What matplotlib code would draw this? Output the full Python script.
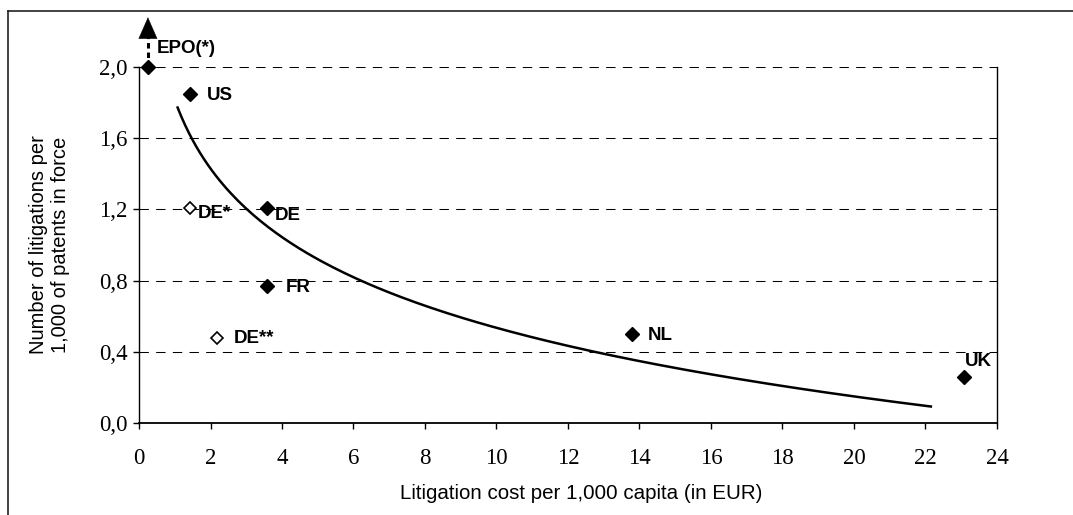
import matplotlib.pyplot as plt
import numpy as np
from matplotlib.lines import Line2D

# Data
countries = ["EPO(*)", "US", "DE", "FR", "NL", "UK"]
cost = [0.25, 1.43, 3.58, 3.58, 13.79, 23.08]
litigations = [2.0, 1.85, 1.21, 0.77, 0.50, 0.26]

alt_labels = ["DE*", "DE**"]
alt_cost = [1.43, 2.18]
alt_litigations = [1.21, 0.48]

# logarithmic trend line (y = a + b ln x) as drawn in the reference
trend_a = 1.815
trend_b = -0.556
trend_range = [1.08, 22.15]

x_ticks = [0, 2, 4, 6, 8, 10, 12, 14, 16, 18, 20, 22, 24]
y_ticks = [0.0, 0.4, 0.8, 1.2, 1.6, 2.0]

# label offsets in pixels (dx right, dy up) from each marker to text baseline-left
label_offsets = {
    "EPO(*)": (9, 14), "US": (17, -6.5), "DE": (8, -12.5), "FR": (19, -6.5),
    "NL": (16, -5.5), "UK": (1, 10.5), "DE*": (8, -10.5), "DE**": (17, -5.5),
}

DPI = 100
px = 72 / DPI

fig = plt.figure(figsize=(10.73, 5.15), dpi=DPI)
ax = fig.add_axes([139 / 1073, 1 - 423 / 515, 858 / 1073, 356 / 515])

ax.set_xlim(0, 24)
ax.set_ylim(0, 2.0)

for yv in y_ticks:
    ax.axhline(yv, color="black", lw=0.75, dashes=(9, 7), zorder=1)

xs = np.linspace(trend_range[0], trend_range[1], 200)
ax.plot(xs, trend_a + trend_b * np.log(xs), color="black", lw=1.8, zorder=2)

ax.plot(cost, litigations, linestyle="none", marker="D", markersize=7.5,
        color="black", clip_on=False, zorder=4)
ax.plot(alt_cost, alt_litigations, linestyle="none", marker="D", markersize=6.4,
        markerfacecolor="white", markeredgecolor="black", markeredgewidth=1.2,
        clip_on=False, zorder=4)

for name, xv, yv in list(zip(countries, cost, litigations)) + list(zip(alt_labels, alt_cost, alt_litigations)):
    dx, dy = label_offsets[name]
    ax.annotate(name, (xv, yv), xytext=(dx * px, dy * px), textcoords="offset points",
                ha="left", va="baseline", fontsize=13.5, fontweight="bold",
                family="Liberation Sans", annotation_clip=False, zorder=5)

# dashed arrow above the EPO point (value beyond the scale)
ax.plot([cost[0], cost[0]], [2.0, 2.19], color="black", lw=2.2, dashes=(1.8, 1.3),
        clip_on=False, zorder=3)
ax.annotate("", xy=(cost[0], 2.295), xytext=(cost[0], 2.185),
            arrowprops=dict(arrowstyle="-|>,head_length=0.75,head_width=0.33",
                            mutation_scale=20, color="black", lw=0.3),
            annotation_clip=False)

ax.spines["top"].set_visible(False)
for side in ["left", "bottom", "right"]:
    ax.spines[side].set_color("black")
    ax.spines[side].set_linewidth(1.0)
ax.spines["bottom"].set_linewidth(1.3)

ax.set_xticks(x_ticks)
ax.set_yticks(y_ticks)
ax.set_xticklabels([str(v) for v in x_ticks])
ax.set_yticklabels([f"{v:.1f}".replace(".", ",") for v in y_ticks])
ax.tick_params(axis="both", direction="out", length=4.3, width=1, labelsize=16.5, color="black")
ax.tick_params(axis="x", pad=14)
ax.tick_params(axis="y", pad=4)
for lab in ax.get_xticklabels() + ax.get_yticklabels():
    lab.set_family("Liberation Serif")

ax.set_xlabel("Litigation cost per 1,000 capita (in EUR)", fontsize=14.8, family="Liberation Sans")
ax.xaxis.set_label_coords(0.515, -0.172)
ax.set_ylabel("Number of litigations per\n1,000 of patents in force", fontsize=14.5,
              family="Liberation Sans", linespacing=1.2)
ax.yaxis.set_label_coords(-0.081, 0.5)

# outer chart frame (top and left edges visible)
fig.add_artist(Line2D([8 / 1073, 1], [1 - 10.5 / 515, 1 - 10.5 / 515], color="#222222", lw=1.2))
fig.add_artist(Line2D([8 / 1073, 8 / 1073], [0, 1 - 10.5 / 515], color="#222222", lw=1.2))

fig.savefig("out.png", dpi=DPI)
